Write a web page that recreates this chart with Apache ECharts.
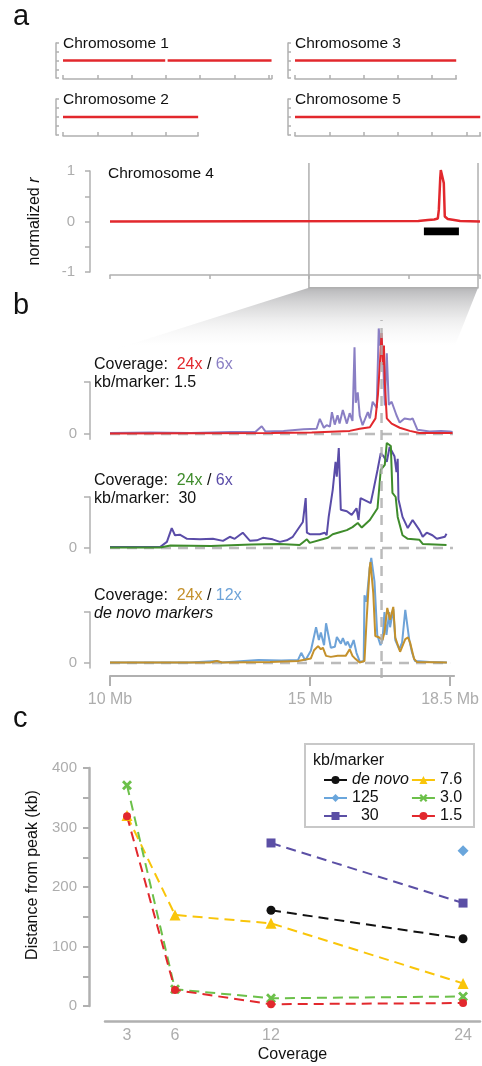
<!DOCTYPE html>
<html>
<head>
<meta charset="utf-8">
<script src="https://cdn.jsdelivr.net/npm/echarts@6.0.0/dist/echarts.min.js"></script>
<style>
	html, body { margin: 0; padding: 0; background: #fff; }
	#chart { width: 482px; height: 1066px; }
</style>
</head>
<body>
<div id="chart"></div>
<script>
const FONT = '"Liberation Sans", Arial, sans-serif',
	GREY = '#b0b0b0',
	LABEL_GREY = '#adadad',
	RED = '#e2282d';

// panel a: chromosome lengths (Mb), chr1..chr5
const chrLength = [30.4, 19.7, 23.5, 18.6, 27.0];
const chr1Track = [[0, 0], [14.9, 0], [15.05, '-'], [15.25, 0], [30.4, 0]];
const chr2Track = [[0, 0], [19.7, 0]];
const chr3Track = [[0, 0], [23.5, 0]];
const chr5Track = [[0, 0], [27.0, 0]];
const chr4Track = [[0, 0], [15.5, 0.01], [15.98, 0.03], [16.3, 0.04], [16.48, 0.06], [16.53, 0.23], [16.6, 0.85],
	[16.63, 1.02], [16.73, 1.03], [16.78, 0.76], [16.83, 0.1], [16.98, 0.05], [17.3, 0.03], [17.6, 0.01], [18.6, 0]];
const peakBar = [15.78, 17.54];
const zoomWindow = [10, 18.5];

// panel b: normalized r around the peak (x in Mb)
const peakPos = 16.73;
const b1Cov6 = [[10.0, 0.02], [11.0, 0.03], [12.0, 0.02], [13.0, 0.04], [13.6, 0.04], [13.76, 0.15], [13.85, 0.05],
	[14.3, 0.06], [14.8, 0.09], [15.12, 0.1], [15.2, 0.29], [15.3, 0.12], [15.37, 0.17], [15.45, 0.14], [15.5, 0.42],
	[15.57, 0.18], [15.64, 0.36], [15.69, 0.2], [15.77, 0.46], [15.87, 0.2], [15.94, 0.4], [16.01, 0.25], [16.06, 1.67],
	[16.09, 0.6], [16.14, 0.8], [16.19, 0.35], [16.26, 0.17], [16.39, 0.42], [16.44, 0.3], [16.51, 0.62], [16.61, 0.5],
	[16.66, 2.03], [16.7, 1.7], [16.73, 1.85], [16.76, 1.6], [16.81, 0.55], [16.86, 1.55], [16.91, 0.56], [16.98, 0.62],
	[17.1, 0.36], [17.18, 0.22], [17.3, 0.3], [17.45, 0.28], [17.5, 0.3], [17.62, 0.08], [17.92, 0.05], [18.2, 0.06],
	[18.42, 0.05], [18.49, 0.04]];
const b1Cov24 = [[10.0, 0.01], [14.0, 0.02], [15.0, 0.03], [15.94, 0.06], [16.19, 0.1], [16.44, 0.13], [16.58, 0.3],
	[16.64, 0.75], [16.7, 1.5], [16.73, 1.94], [16.76, 1.33], [16.79, 1.7], [16.81, 1.0], [16.86, 0.3], [16.98, 0.2],
	[17.18, 0.12], [17.43, 0.06], [17.67, 0.02], [18.49, 0.02]];
const b2Cov6 = [[10.0, 0.02], [11.24, 0.02], [11.41, 0.12], [11.53, 0.39], [11.61, 0.25], [11.73, 0.26], [11.91, 0.18],
	[12.23, 0.17], [12.55, 0.18], [12.8, 0.14], [12.97, 0.22], [13.09, 0.18], [13.29, 0.3], [13.47, 0.14], [13.64, 0.15],
	[13.79, 0.2], [14.03, 0.17], [14.21, 0.12], [14.38, 0.15], [14.53, 0.22], [14.78, 0.51], [14.85, 0.98], [14.88, 0.3],
	[14.95, 0.27], [15.2, 0.27], [15.32, 0.3], [15.37, 0.25], [15.42, 0.61], [15.52, 1.14], [15.59, 1.69], [15.62, 1.4],
	[15.67, 1.96], [15.72, 0.75], [15.87, 0.72], [15.99, 0.65], [16.11, 0.78], [16.16, 0.55], [16.21, 0.98], [16.36, 0.92],
	[16.46, 0.88], [16.53, 1.14], [16.63, 1.53], [16.71, 1.86], [16.78, 1.8], [16.86, 1.69], [16.93, 1.98], [17.05, 1.8],
	[17.1, 1.49], [17.13, 1.75], [17.15, 0.95], [17.25, 0.61], [17.38, 0.39], [17.5, 0.55], [17.67, 0.35], [17.75, 0.22],
	[17.85, 0.3], [17.99, 0.25], [18.1, 0.18], [18.2, 0.2], [18.3, 0.22], [18.34, 0.28]];
const b2Cov24 = [[10.0, 0.01], [11.24, 0.01], [11.5, 0.05], [12.5, 0.04], [13.5, 0.07], [14.2, 0.08], [14.7, 0.06],
	[14.88, 0.17], [14.95, 0.1], [15.4, 0.2], [15.52, 0.27], [15.69, 0.31], [15.87, 0.35], [16.01, 0.41], [16.14, 0.49],
	[16.24, 0.4], [16.44, 0.55], [16.63, 0.78], [16.71, 1.53], [16.81, 1.63], [16.86, 2.06], [16.96, 2.0], [17.0, 1.08],
	[17.08, 1.0], [17.13, 0.61], [17.25, 0.25], [17.38, 0.18], [17.67, 0.16], [17.75, 0.08], [18.34, 0.06]];
const b3Cov12 = [[10.0, 0.01], [12.0, 0.01], [12.67, 0.04], [12.8, 0.01], [13.71, 0.06], [14.28, 0.05], [14.7, 0.06],
	[14.78, 0.2], [14.88, 0.05], [15.02, 0.24], [15.15, 0.7], [15.22, 0.45], [15.27, 0.6], [15.35, 0.35], [15.4, 0.78],
	[15.52, 0.3], [15.62, 0.32], [15.67, 0.51], [15.77, 0.38], [15.82, 0.49], [15.89, 0.35], [15.94, 0.42], [16.01, 0.29],
	[16.09, 0.45], [16.16, 0.2], [16.24, 0.03], [16.34, 0.03], [16.36, 1.33], [16.41, 1.2], [16.49, 1.86], [16.53, 2.06],
	[16.61, 1.6], [16.63, 1.6], [16.68, 0.55], [16.76, 0.35], [16.81, 0.45], [16.86, 1.0], [16.91, 0.55], [16.98, 1.0],
	[17.0, 0.7], [17.08, 1.06], [17.13, 0.45], [17.23, 0.27], [17.3, 0.4], [17.38, 1.04], [17.48, 0.45], [17.55, 0.2],
	[17.62, 0.04], [17.99, 0.02], [18.42, 0.01]];
const b3Cov24 = [[10.0, 0.01], [12.5, 0.01], [12.67, 0.04], [12.8, 0.01], [14.0, 0.02], [14.7, 0.04], [15.02, 0.09],
	[15.1, 0.25], [15.2, 0.33], [15.27, 0.27], [15.32, 0.3], [15.4, 0.14], [15.52, 0.12], [15.69, 0.14], [15.89, 0.14],
	[15.99, 0.27], [16.06, 0.14], [16.11, 0.1], [16.24, 0.01], [16.36, 0.04], [16.41, 0.8], [16.49, 1.86], [16.51, 1.98],
	[16.58, 1.37], [16.63, 0.53], [16.73, 0.5], [16.81, 0.45], [16.86, 0.6], [16.93, 1.08], [17.0, 0.85], [17.08, 1.1],
	[17.13, 0.5], [17.25, 0.22], [17.38, 0.47], [17.45, 0.5], [17.5, 0.4], [17.6, 0.08], [17.67, 0.02], [18.42, 0.01]];
const bTicks = [10, 15, 18.5];

// panel c: distance from peak (kb) by coverage
const coverage = [3, 6, 12, 24];
const markerSets = ['de novo', '125', '30', '7.6', '3.0', '1.5'];
const distDeNovo = [null, null, 161, 113];
const dist125 = [null, null, null, 261];
const dist30 = [null, null, 274, 173];
const dist7_6 = [320, 153, 139, 38];
const dist3_0 = [371, 28, 13, 16];
const dist1_5 = [319, 27, 3, 5];

const chart = echarts.init(document.getElementById('chart'));

const line = w => ({ show: true, onZero: false, lineStyle: { color: GREY, width: w } }),
	tick = (inside, length, w) => ({ show: true, inside, length, lineStyle: { color: GREY, width: w } }),
	noLabel = { show: false },
	noSplit = { show: false },
	MB_PX = 6.86;

const chrX = (gridIndex, len) => ({ gridIndex, type: 'value', min: 0, max: len, interval: 5, offset: 1,
		axisLine: line(1.5), axisTick: tick(true, 4, 1.5), axisLabel: noLabel, splitLine: noSplit }),
	chrY = gridIndex => ({ gridIndex, type: 'value', min: -1, max: 1, interval: 0.5, offset: 7,
		axisLine: line(1.5), axisTick: tick(true, 3, 1.5), axisLabel: noLabel, splitLine: noSplit }),
	bY = gridIndex => ({ gridIndex, type: 'value', min: -0.1, max: 1, offset: 20,
		axisLine: line(1.5), axisTick: Object.assign(tick(false, 6, 1.5), { customValues: [0, 1] }),
		axisLabel: { customValues: [0], color: LABEL_GREY, fontSize: 15, margin: 13 }, splitLine: noSplit }),
	hidden = (gridIndex, min, max) => ({ gridIndex, type: 'value', min, max, show: false });

const trace = (axis, data, color, width, z) => ({ type: 'line', xAxisIndex: axis, yAxisIndex: axis, data,
		showSymbol: false, clip: false, silent: true, z: z || 2, lineStyle: { color, width } }),
	dashed = (axis, data, z) => ({ type: 'line', xAxisIndex: axis, yAxisIndex: axis, data, showSymbol: false,
		silent: true, z: z || 1, lineStyle: { color: 'rgba(175,175,175,0.85)', width: 2.5, type: [10, 7] } }),
	pairs = vals => coverage.map((c, i) => [c, vals[i]]).filter(p => p[1] != null),
	distance = (name, vals, color, symbol, symbolSize) => ({ type: 'line', name, xAxisIndex: 9, yAxisIndex: 9,
		data: pairs(vals), symbol, symbolSize, itemStyle: { color },
		lineStyle: { color, width: 2, type: [10, 6] } });

const X_MARK = 'path://M2,0L5,3L8,0L10,2L7,5L10,8L8,10L5,7L2,10L0,8L3,5L0,2Z';

const option = {
	animation: false,
	textStyle: { fontFamily: FONT },
	grid: [
		{ left: 63, top: 43, width: chrLength[0] * MB_PX, height: 35 },
		{ left: 63, top: 99, width: chrLength[1] * MB_PX, height: 36 },
		{ left: 295, top: 43, width: chrLength[2] * MB_PX, height: 35 },
		{ left: 295, top: 99, width: chrLength[4] * MB_PX, height: 36 },
		{ left: 110, top: 171, width: 370, height: 101 },
		{ left: 110, top: 382, width: 347, height: 57.2 },
		{ left: 110, top: 497, width: 347, height: 56.1 },
		{ left: 110, top: 612, width: 347, height: 56.1 },
		{ left: 110, top: 320, width: 347, height: 358 },
		{ left: 105, top: 768, width: 375, height: 238 }
	],
	xAxis: [
		chrX(0, chrLength[0]), chrX(1, chrLength[1]), chrX(2, chrLength[2]), chrX(3, chrLength[4]),
		{ gridIndex: 4, type: 'value', min: 0, max: chrLength[3], interval: 5, offset: 3,
			axisLine: line(1.5), axisTick: tick(false, 4, 1.5), axisLabel: noLabel, splitLine: noSplit },
		hidden(5, 10, 18.6), hidden(6, 10, 18.6),
		{ gridIndex: 7, type: 'value', min: 10, max: 18.6, offset: 8,
			axisLine: line(2), axisTick: Object.assign(tick(false, 10, 2), { customValues: bTicks }),
			axisLabel: { customValues: bTicks, formatter: v => v + ' Mb', color: LABEL_GREY, fontSize: 16, margin: 15 },
			splitLine: noSplit },
		hidden(8, 10, 18.6),
		{ gridIndex: 9, type: 'value', min: 1.625, max: 25.06, offset: 15,
			axisLine: line(2.5), axisTick: { show: false },
			axisLabel: { customValues: coverage, color: LABEL_GREY, fontSize: 16, margin: 7 }, splitLine: noSplit,
			name: 'Coverage', nameLocation: 'middle', nameGap: 26, nameTextStyle: { color: '#111', fontSize: 16 } }
	],
	yAxis: [
		chrY(0), chrY(1), chrY(2), chrY(3),
		{ gridIndex: 4, type: 'value', min: -1, max: 1, interval: 0.5, offset: 20,
			axisLine: line(1.5), axisTick: tick(false, 5, 1.5),
			axisLabel: { formatter: v => Number.isInteger(v) ? String(v) : '', color: LABEL_GREY, fontSize: 15, margin: 15 },
			splitLine: noSplit, name: 'normalized {i|r}', nameLocation: 'middle', nameGap: 47,
			nameTextStyle: { color: '#111', fontSize: 16, rich: { i: { fontStyle: 'italic', fontSize: 16, color: '#111' } } } },
		bY(5), bY(6), bY(7),
		hidden(8, 0, 1),
		{ gridIndex: 9, type: 'value', min: 0, max: 400, interval: 50, offset: 16,
			axisLine: line(2.5), axisTick: tick(false, 6, 2),
			axisLabel: { formatter: v => v % 100 === 0 ? String(v) : '', color: LABEL_GREY, fontSize: 15, margin: 12 },
			splitLine: noSplit, name: 'Distance from peak (kb)', nameLocation: 'middle', nameGap: 46,
			nameTextStyle: { color: '#111', fontSize: 16, padding: [0, 0, 0, 24] } }
	],
	legend: {
		data: markerSets, orient: 'vertical', left: 318, top: 767, height: 54, itemGap: 2,
		itemWidth: 23, itemHeight: 10,
		formatter: n => n === 'de novo' ? '{i|de novo}' : n === '30' ? '  30' : n,
		textStyle: { color: '#111', fontSize: 16, rich: { i: { fontStyle: 'italic', fontSize: 16, color: '#111' } } },
		lineStyle: { type: 'solid' }
	},
	series: [
		trace(0, chr1Track, RED, 2.5), trace(1, chr2Track, RED, 2.5), trace(2, chr3Track, RED, 2.5),
		trace(3, chr5Track, RED, 2.5),
		Object.assign(trace(4, chr4Track, RED, 2.5), {
			markArea: { silent: true, itemStyle: { color: '#000' },
				data: [[{ xAxis: peakBar[0], yAxis: -0.12 }, { xAxis: peakBar[1], yAxis: -0.27 }]] }
		}),
		dashed(5, zoomWindow.map(x => [x, 0])), trace(5, b1Cov6, '#8a7fc4', 2), trace(5, b1Cov24, RED, 2, 3),
		dashed(6, zoomWindow.map(x => [x, 0])), trace(6, b2Cov6, '#5a4ca8', 2), trace(6, b2Cov24, '#3f8c2c', 2, 3),
		dashed(7, zoomWindow.map(x => [x, 0])), trace(7, b3Cov12, '#6ea3d8', 2), trace(7, b3Cov24, '#c4912c', 2, 3),
		dashed(8, [[peakPos, 0], [peakPos, 1]], 4),
		distance('de novo', distDeNovo, '#111', 'circle', 9),
		distance('125', dist125, '#6aa6dc', 'diamond', 11),
		distance('30', dist30, '#5b4fa5', 'rect', 9),
		distance('7.6', dist7_6, '#f9c50a', 'triangle', 11),
		distance('3.0', dist3_0, '#6cc04a', X_MARK, 10),
		distance('1.5', dist1_5, RED, 'circle', 8)
	]
};

chart.setOption(option);

// overlays positioned through the chart's own scales
const pt = (gridIndex, x, y) => chart.convertToPixel({ gridIndex }, [x, y]),
	[w0, w1] = zoomWindow,
	boxTop = [pt(4, w0, 1.16), pt(4, w1, 1.16)],
	boxBottom = [pt(4, w0, -1.31), pt(4, w1, -1.31)],
	fade = [pt(5, w0, 1.6), pt(5, w1, 1.6)];

const txt = (text, x, y, size, extra) => ({ type: 'text', x, y, silent: true,
		style: Object.assign({ text, fontSize: size, fontFamily: FONT, fill: '#111',
			verticalAlign: 'middle', textVerticalAlign: 'middle' }, extra) }),
	tok = (fill, italic) => ({ fill, color: fill, fontSize: 16, fontFamily: FONT, fontStyle: italic ? 'italic' : 'normal' }),
	coverageText = (y, c1, t1, c2, t2) => txt(`{k|Coverage:  }{a|${t1}}{k| / }{b|${t2}}`, 94, y, 16,
		{ rich: { k: tok('#111'), a: tok(c1), b: tok(c2) } });

chart.setOption({
	graphic: [
		{ type: 'polygon', silent: true, z: 0,
			shape: { points: [boxBottom[0], boxBottom[1], fade[1], fade[0]] },
			style: { fill: new echarts.graphic.LinearGradient(0, 0, 0, 1, [
				{ offset: 0, color: 'rgba(182,182,184,1)' },
				{ offset: 1, color: 'rgba(255,255,255,0)' }
			]) } },
		{ type: 'polyline', silent: true, z: 1,
			shape: { points: [boxTop[0], boxBottom[0], boxBottom[1], boxTop[1]] },
			style: { stroke: GREY, lineWidth: 1.5, fill: null } },
		txt('a', 13, 17, 29), txt('b', 13, 306, 29), txt('c', 13, 719, 29),
		txt('Chromosome 1', 63, 44, 15.5), txt('Chromosome 3', 295, 44, 15.5),
		txt('Chromosome 2', 63, 100, 15.5), txt('Chromosome 5', 295, 100, 15.5),
		txt('Chromosome 4', 108, 174, 15.5),
		coverageText(365, RED, '24x', '#8a7fc4', '6x'), txt('kb/marker: 1.5', 94, 383, 16),
		coverageText(481, '#3f8c2c', '24x', '#5a4ca8', '6x'), txt('kb/marker:  30', 94, 499, 16),
		coverageText(596, '#c4912c', '24x', '#6ea3d8', '12x'),
		txt('de novo markers', 94, 614, 16, { fontStyle: 'italic' }),
		{ type: 'rect', silent: true, z: 0, shape: { x: 305, y: 744, width: 169, height: 83 },
			style: { fill: null, stroke: '#c8c8c8', lineWidth: 2 } },
		txt('kb/marker', 313, 761, 16)
	]
});
</script>
</body>
</html>
